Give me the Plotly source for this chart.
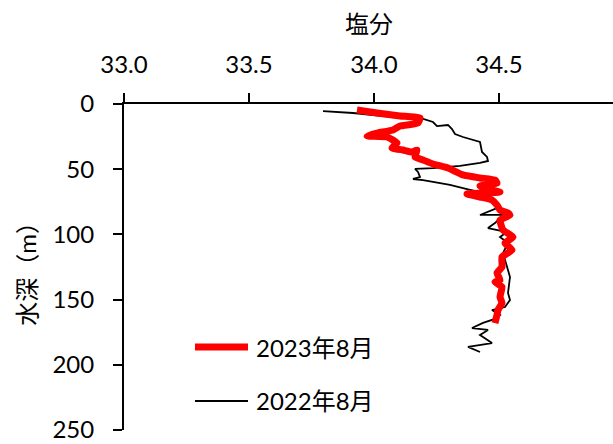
import plotly.graph_objects as go

# Salinity profiles (salinity, depth in m)
sal_2022 = [33.796, 33.916, 34.036, 34.184, 34.236, 34.252, 34.296, 34.312, 34.324, 34.356,
            34.424, 34.432, 34.452, 34.456, 34.424, 34.344, 34.236, 34.164, 34.176, 34.184,
            34.156, 34.196, 34.236, 34.304, 34.372, 34.424, 34.452, 34.464, 34.492, 34.424,
            34.516, 34.484, 34.456, 34.532, 34.504, 34.536, 34.516, 34.532, 34.544, 34.536,
            34.544, 34.524, 34.472, 34.504, 34.472, 34.436, 34.392, 34.456, 34.424, 34.472,
            34.376, 34.424]
dep_2022 = [5.4, 6.9, 9.2, 10.7, 13.8, 16.9, 16.1, 19.2, 23.0, 25.3,
            29.1, 36.8, 40.6, 43.7, 45.2, 47.5, 49.1, 49.8, 52.1, 56.0,
            57.5, 58.3, 59.8, 62.1, 65.2, 67.5, 72.1, 73.6, 79.8, 85.1,
            85.1, 91.3, 95.1, 98.2, 102.0, 106.6, 114.3, 125.0, 132.7, 144.9,
            150.3, 155.7, 158.0, 161.8, 165.6, 167.9, 171.8, 173.3, 177.1, 183.3,
            186.3, 190.2]

sal_2023 = [33.932, 34.012, 34.104, 34.184, 34.176, 34.104, 34.076, 34.016, 33.972, 34.052,
            34.092, 34.072, 34.116, 34.152, 34.172, 34.164, 34.196, 34.236, 34.296, 34.356,
            34.424, 34.484, 34.492, 34.424, 34.452, 34.504, 34.372, 34.424, 34.472, 34.492,
            34.504, 34.536, 34.544, 34.504, 34.516, 34.556, 34.524, 34.552, 34.512, 34.512,
            34.492, 34.504, 34.484, 34.512, 34.504, 34.512, 34.496, 34.492, 34.484]
dep_2023 = [4.6, 6.9, 9.2, 10.7, 14.6, 16.9, 19.9, 22.2, 24.5, 25.3,
            29.9, 33.7, 35.3, 36.8, 35.3, 40.6, 42.9, 46.0, 49.1, 54.4,
            56.7, 58.3, 60.6, 62.9, 65.2, 67.5, 69.0, 71.3, 73.6, 77.5,
            81.3, 83.6, 85.1, 89.0, 96.6, 102.0, 106.6, 112.0, 117.3, 125.0,
            129.6, 135.0, 136.5, 140.3, 148.0, 152.6, 158.0, 161.8, 168.0]

x_ticks = [33.0, 33.5, 34.0, 34.5]
y_ticks = [0, 50, 100, 150, 200, 250]
labels = ["2023年8月", "2022年8月"]

FONT = "Lato, 'Noto Sans CJK JP', sans-serif"

fig = go.Figure()
fig.add_trace(go.Scatter(x=sal_2022, y=dep_2022, mode="lines", name=labels[1],
                         line=dict(color="black", width=1.8)))
fig.add_trace(go.Scatter(x=sal_2023, y=dep_2023, mode="lines", name=labels[0],
                         line=dict(color="#ff0000", width=7, shape="spline",
                                   smoothing=0.4)))

axis_common = dict(showgrid=False, zeroline=False, showline=True, linecolor="black",
                   linewidth=2, ticks="outside", ticklen=9, tickwidth=2,
                   tickcolor="black", tickfont=dict(family=FONT, size=24, color="black"))

fig.update_xaxes(side="top", range=[33.0, 34.956], tickvals=x_ticks,
                 ticktext=[f"{v:.1f}" for v in x_ticks], ticklabelstandoff=10,
                 **axis_common)
fig.update_yaxes(range=[250, 0], tickvals=y_ticks, ticklabelstandoff=14,
                 **axis_common)

# Axis titles
fig.add_annotation(text="塩分", x=0.5, xref="paper", y=1.246, yref="paper",
                   showarrow=False, xanchor="center", yanchor="middle",
                   font=dict(family=FONT, size=24, color="black"))
fig.add_annotation(text="水深（m）", x=-0.199, xref="paper", y=0.497, yref="paper",
                   showarrow=False, textangle=-90, xanchor="center", yanchor="middle",
                   font=dict(family=FONT, size=24, color="black"))

# Legend keys drawn inside the plot area
legend_rows = [(0.2546, "#ff0000", 7, labels[0]), (0.0890, "black", 1.8, labels[1])]
for yk, col, w, txt in legend_rows:
    fig.add_shape(type="line", xref="paper", yref="paper", x0=0.1452, x1=0.2536,
                  y0=yk, y1=yk, line=dict(color=col, width=w))
    fig.add_annotation(text=txt, x=0.2658, xref="paper", y=yk, yref="paper",
                       showarrow=False, xanchor="left", yanchor="middle",
                       font=dict(family=FONT, size=24, color="black"))

fig.update_layout(width=613, height=444, margin=dict(l=124, r=0, t=104, b=14),
                  plot_bgcolor="white", paper_bgcolor="white", showlegend=False)

fig.write_html("out.html")
